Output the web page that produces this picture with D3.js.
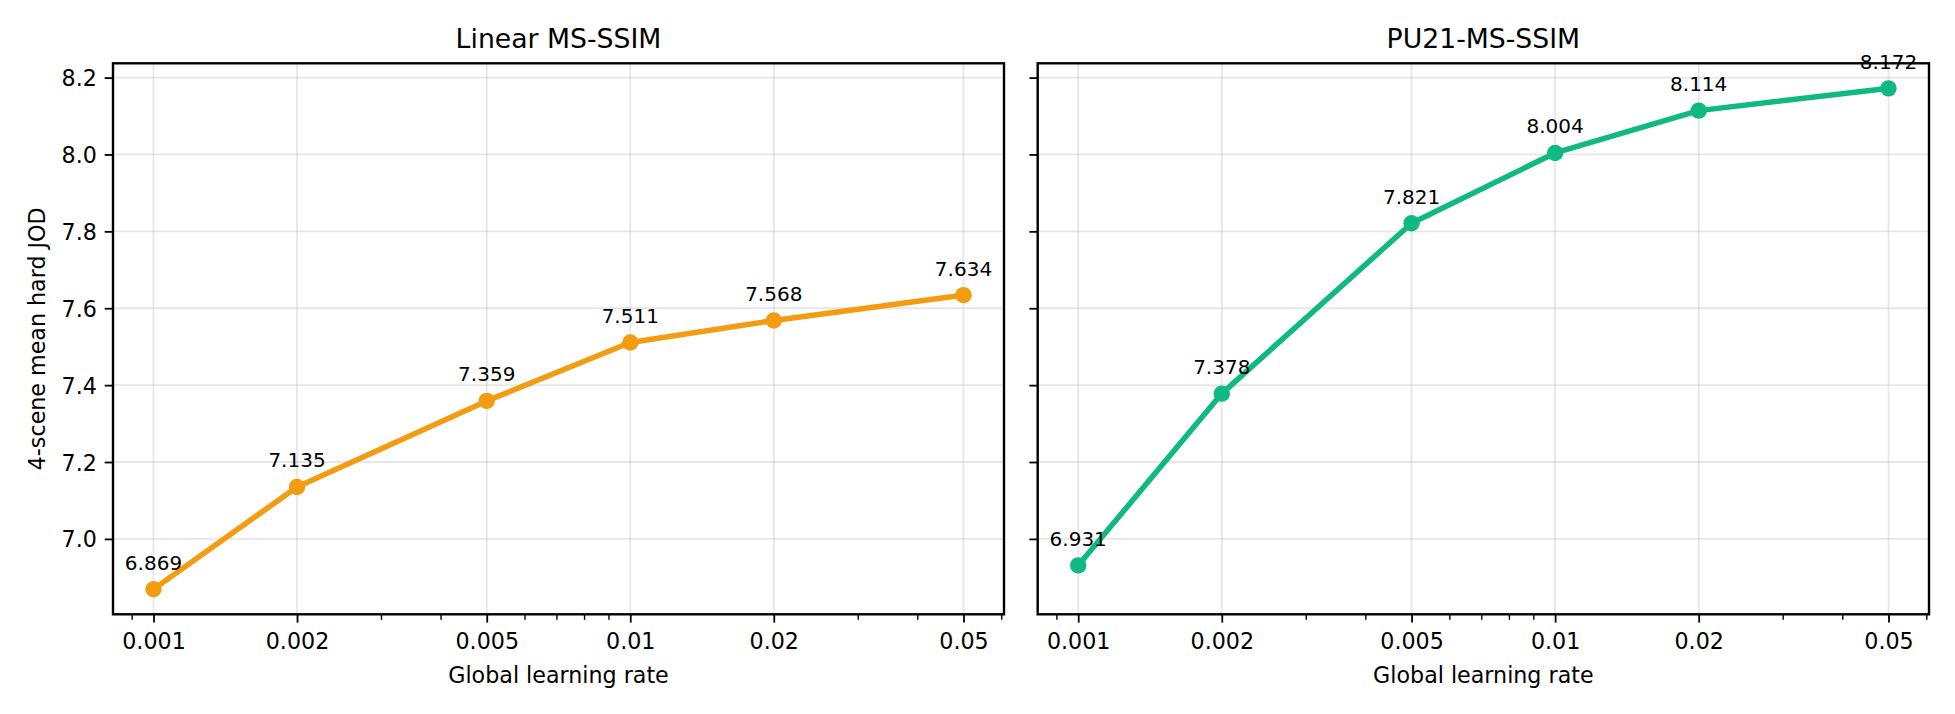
<!DOCTYPE html>
<html lang="en">
  <head>
    <meta charset="UTF-8" />
    <title>Learning rate sweep</title>
    <script src="https://d3js.org/d3.v7.min.js"></script>
    <style>
      body { margin: 0; background: #fff; }
      text { font-family: "DejaVu Sans", sans-serif; fill: #000; }
    </style>
  </head>
  <body>
    <svg width="1955" height="714"></svg>

    <script>
      // data
      var learningRates = [0.001, 0.002, 0.005, 0.01, 0.02, 0.05];
      var rateLabels = ["0.001", "0.002", "0.005", "0.01", "0.02", "0.05"];
      var linearJOD = [6.869, 7.135, 7.359, 7.511, 7.568, 7.634];
      var pu21JOD = [6.931, 7.378, 7.821, 8.004, 8.114, 8.172];
      var yTicks = [7.0, 7.2, 7.4, 7.6, 7.8, 8.0, 8.2];
      var panelTitles = ["Linear MS-SSIM", "PU21-MS-SSIM"];
      var panelColors = ["#f39c12", "#10b981"];

      var svg = d3.select("svg");
      svg.append("rect").attr("width", 1955).attr("height", 714).attr("fill", "#fff");

      var plotTop = 63.3, plotBottom = 614.3;
      var panels = [
        { left: 113, right: 1004, values: linearJOD },
        { left: 1037.7, right: 1929, values: pu21JOD },
      ];

      // 5% margins like matplotlib (log space on x)
      var lx0 = Math.log10(d3.min(learningRates)), lx1 = Math.log10(d3.max(learningRates));
      var px = (lx1 - lx0) * 0.05;
      var allY = linearJOD.concat(pu21JOD);
      var y0 = d3.min(allY), y1 = d3.max(allY), py = (y1 - y0) * 0.05;

      var y = d3.scaleLinear().domain([y0 - py, y1 + py]).range([plotBottom, plotTop]);

      panels.forEach(function (p, i) {
        var x = d3
          .scaleLog()
          .domain([Math.pow(10, lx0 - px), Math.pow(10, lx1 + px)])
          .range([p.left, p.right]);

        var g = svg.append("g");

        // grid
        g.selectAll(".vgrid")
          .data(learningRates)
          .enter()
          .append("line")
          .attr("x1", function (d) { return x(d); })
          .attr("x2", function (d) { return x(d); })
          .attr("y1", plotTop)
          .attr("y2", plotBottom)
          .attr("stroke", "#b0b0b0")
          .attr("stroke-opacity", 0.3)
          .attr("stroke-width", 1.8);
        g.selectAll(".hgrid")
          .data(yTicks)
          .enter()
          .append("line")
          .attr("x1", p.left)
          .attr("x2", p.right)
          .attr("y1", function (d) { return y(d); })
          .attr("y2", function (d) { return y(d); })
          .attr("stroke", "#b0b0b0")
          .attr("stroke-opacity", 0.3)
          .attr("stroke-width", 1.8);

        // minor ticks on the log axis
        var minor = x.ticks().filter(function (t) {
          return !learningRates.some(function (m) { return Math.abs(m - t) / m < 1e-6; });
        });
        var minorAxis = g.append("g")
          .attr("transform", "translate(0," + plotBottom + ")")
          .call(d3.axisBottom(x).tickValues(minor).tickSize(5.5).tickFormat(""));
        minorAxis.select(".domain").remove();
        minorAxis.selectAll("line").attr("stroke-width", 1.4);

        // major x axis
        var xAxis = g.append("g")
          .attr("transform", "translate(0," + plotBottom + ")")
          .call(
            d3.axisBottom(x)
              .tickValues(learningRates)
              .tickSize(8.3)
              .tickFormat(function (d, k) { return rateLabels[k]; })
          );
        xAxis.select(".domain").remove();
        xAxis.selectAll("line").attr("stroke-width", 1.8);
        xAxis.selectAll("text")
          .attr("y", 35)
          .attr("dy", null)
          .style("font-size", "22.2px")
          .style("font-family", "DejaVu Sans");

        // y axis (labels only on the left panel)
        var yAxis = g.append("g")
          .attr("transform", "translate(" + p.left + ",0)")
          .call(
            d3.axisLeft(y)
              .tickValues(yTicks)
              .tickSize(8.3)
              .tickPadding(7.8)
              .tickFormat(i === 0 ? d3.format(".1f") : function () { return ""; })
          );
        yAxis.select(".domain").remove();
        yAxis.selectAll("line").attr("stroke-width", 1.8);
        yAxis.selectAll("text")
          .attr("dy", "0.36em")
          .style("font-size", "22.2px")
          .style("font-family", "DejaVu Sans");

        // frame
        g.append("rect")
          .attr("x", p.left)
          .attr("y", plotTop)
          .attr("width", p.right - p.left)
          .attr("height", plotBottom - plotTop)
          .attr("fill", "none")
          .attr("stroke", "#000")
          .attr("stroke-width", 2.4);

        // line + markers
        var pts = learningRates.map(function (r, k) { return [r, p.values[k]]; });
        var line = d3.line()
          .x(function (d) { return x(d[0]); })
          .y(function (d) { return y(d[1]); });
        g.append("path")
          .datum(pts)
          .attr("d", line)
          .attr("fill", "none")
          .attr("stroke", panelColors[i])
          .attr("stroke-width", 5.5)
          .attr("stroke-linejoin", "round")
          .attr("stroke-linecap", "square");
        g.selectAll(".dot")
          .data(pts)
          .enter()
          .append("circle")
          .attr("cx", function (d) { return x(d[0]); })
          .attr("cy", function (d) { return y(d[1]); })
          .attr("r", 8.2)
          .attr("fill", panelColors[i]);

        // value labels
        g.selectAll(".val")
          .data(pts)
          .enter()
          .append("text")
          .attr("x", function (d) { return x(d[0]); })
          .attr("y", function (d) { return y(d[1]) - 19.5; })
          .attr("text-anchor", "middle")
          .style("font-size", "20px")
          .text(function (d) { return d[1].toFixed(3); });

        // titles
        g.append("text")
          .attr("x", (p.left + p.right) / 2)
          .attr("y", 47.8)
          .attr("text-anchor", "middle")
          .style("font-size", "26.7px")
          .text(panelTitles[i]);
        g.append("text")
          .attr("x", (p.left + p.right) / 2)
          .attr("y", 682.7)
          .attr("text-anchor", "middle")
          .style("font-size", "22.2px")
          .text("Global learning rate");
      });

      // shared y label
      svg.append("text")
        .attr("transform", "translate(44.5," + (plotTop + plotBottom) / 2 + ") rotate(-90)")
        .attr("text-anchor", "middle")
        .style("font-size", "22.2px")
        .text("4-scene mean hard JOD");
    </script>
  </body>
</html>
